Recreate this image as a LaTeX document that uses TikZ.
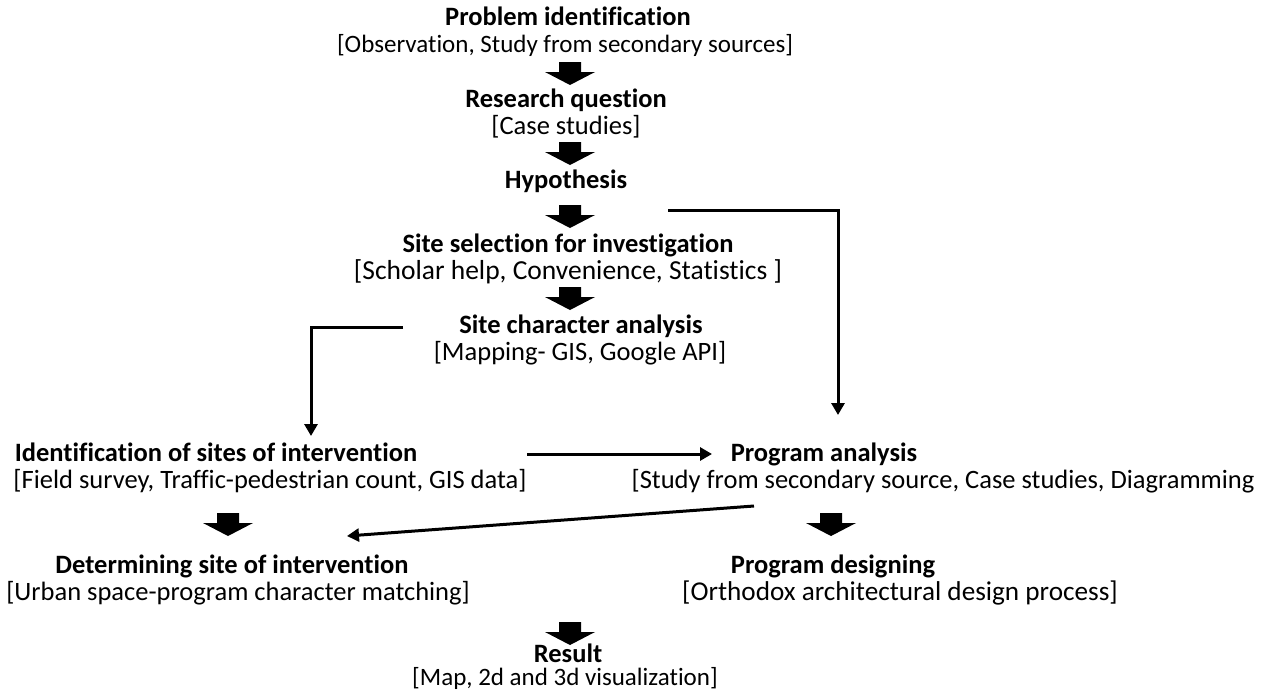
\documentclass[tikz,border=0pt]{standalone}
\usepackage{fontspec}
\setmainfont{Carlito}[Ligatures=NoCommon]
\usetikzlibrary{arrows.meta,calc}
\newcommand{\blockarrow}[3]{%
  \coordinate (#1) at (#2,#3);
  \fill[blk] ($(#1)+(-11,0)$) -- ($(#1)+(11,0)$) -- ($(#1)+(11,10)$) -- ($(#1)+(25,10)$) -- ($(#1)+(0,23)$) -- ($(#1)+(-25,10)$) -- ($(#1)+(-11,10)$) -- cycle;}
\begin{document}
\begin{tikzpicture}[x=1pt,y=-1pt,
  fs/.store in=\fsz, fs=26.5,
  title/.style={font=\fontsize{\fsz}{30}\selectfont\bfseries, inner sep=0pt, text height=18pt, text depth=6pt},
  note/.style={font=\fontsize{\fsz}{30}\selectfont, inner sep=0pt, text height=18pt, text depth=6pt},
  conn/.style={line width=3pt, -{Triangle[length=12pt,width=13pt]}},
  blk/.style={fill=black, draw=none}]
\useasboundingbox (0,0) rectangle (1275,691);
% top column
\node[title] (t1) at (568,19) {Problem identification};
\node[note,fs=25]  (b1) at (565,46) {[Observation, Study from secondary sources]};
\blockarrow{a1}{570}{62}
\node[title] (t2) at (566,101) {Research question};
\node[note]  (b2) at (566,128) {[Case studies]};
\blockarrow{a2}{570}{142}
\node[title] (t3) at (566,182) {Hypothesis};
\blockarrow{a3}{570}{205}
\node[title] (t4) at (568,246) {Site selection for investigation};
\node[note,fs=27.5]  (b4) at (568,273) {[Scholar help, Convenience, Statistics ]};
\blockarrow{a4}{570}{287}
\node[title] (t5) at (581,327) {Site character analysis};
\node[note]  (b5) at (580,354) {[Mapping- GIS, Google API]};
% middle row
\node[title] (t6) at (216,455) {Identification of sites of intervention};
\node[note]  (b6) at (270,482) {[Field survey, Traffic-pedestrian count, GIS data]};
\node[title] (t7) at (824,455) {Program analysis};
\node[note]  (b7) at (943,482) {[Study from secondary source, Case studies, Diagramming};
\blockarrow{a5}{228}{513}
\blockarrow{a6}{831}{513}
% lower row
\node[title] (t8) at (232,567) {Determining site of intervention};
\node[note]  (b8) at (238,594) {[Urban space-program character matching]};
\node[title] (t9) at (833,567) {Program designing};
\node[note,fs=27.2]  (b9) at (900,594) {[Orthodox architectural design process]};
\blockarrow{a7}{570}{622}
\node[title] (t10) at (568,656) {Result};
\node[note,fs=25]  (b10) at (565,679) {[Map, 2d and 3d visualization]};
% connectors
\coordinate (e1s) at (403,327);
\coordinate (e1e) at (311,436);
\draw[conn] (e1s) -| (e1e);
\coordinate (e2s) at (668,210);
\coordinate (e2e) at (838,415);
\draw[conn] (e2s) -| (e2e);
\coordinate (hs) at (527,454);
\coordinate (he) at (712,454);
\draw[conn] (hs) -- (he);
\coordinate (ds) at (754,506);
\coordinate (de) at (347,536);
\draw[conn] (ds) -- (de);
\end{tikzpicture}
\end{document}
